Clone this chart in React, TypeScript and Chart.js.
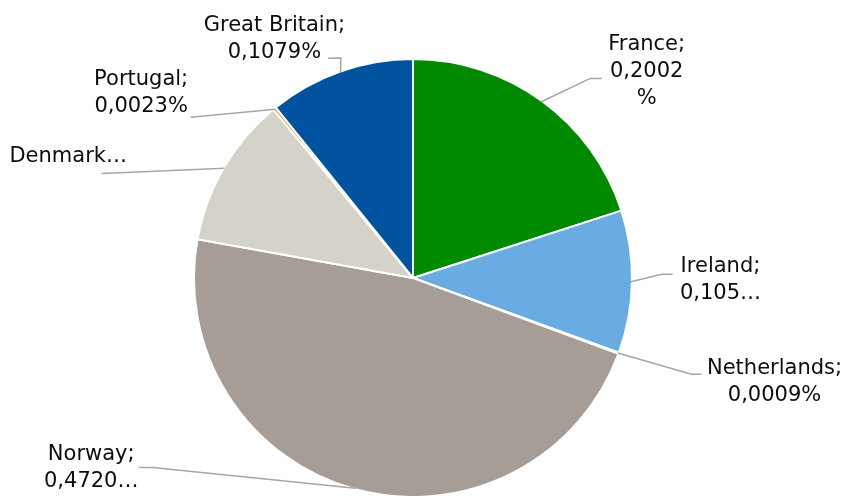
import React, { useEffect, useRef } from "react";
import { Chart, registerables } from "chart.js";

Chart.register(...registerables);

const categories = ["France", "Ireland", "Netherlands", "Norway", "Denmark", "Portugal", "Great Britain"];
const shares = [0.2002, 0.1052, 0.0009, 0.472, 0.1115, 0.0023, 0.1079];
const labelTexts = [
  ["France;", "0,2002", "%"],
  ["Ireland;", "0,105…"],
  ["Netherlands;", "0,0009%"],
  ["Norway;", "0,4720…"],
  ["Denmark…"],
  ["Portugal;", "0,0023%"],
  ["Great Britain;", "0,1079%"],
];
const colors = ["#008A00", "#69ACE3", "#D9D9D9", "#A59D96", "#D5D2CA", "#F39200", "#00549F"];

// label layout: offsets relative to the slice's outer mid-point
// knee/end: leader line points; text: centre x, first baseline y
const labelLayout = [
  { knee: [49, -23.3], end: [60.6, -23.3], text: [105.4, -51.3] },
  { knee: [30.7, -7.5], end: [41.7, -7.5], text: [89.5, -9.8] },
  { knee: [73.8, 21.4], end: [83.8, 21.4], text: [156.8, 20.7] },
  { knee: [-203.2, -20.8], end: [-216.9, -20.8], text: [-264.5, -28.2] },
  { knee: [-123.1, 5.3], end: [-123.1, 5.3], text: [-156.5, -6] },
  { knee: [-84.4, 8], end: [-84.4, 8], text: [-133.9, -24.4] },
  { knee: [0.4, -14.4], end: [-12.3, -14.1], text: [-66.1, -41.1] },
];

const LINE_H = 27;

const labelPlugin = {
  id: "leaderLabels",
  afterDraw(chart: any) {
    const ctx = chart.ctx;
    const meta = chart.getDatasetMeta(0);
    ctx.save();
    meta.data.forEach((arc: any, i: number) => {
      const { x, y, startAngle, endAngle, outerRadius } = arc.getProps(
        ["x", "y", "startAngle", "endAngle", "outerRadius"],
        true
      );
      const mid = (startAngle + endAngle) / 2;
      const r = outerRadius - 1;
      const ax = x + Math.cos(mid) * r;
      const ay = y + Math.sin(mid) * r;
      const L = labelLayout[i];
      ctx.strokeStyle = "#A6A6A6";
      ctx.lineWidth = 1.5;
      ctx.beginPath();
      ctx.moveTo(ax, ay);
      ctx.lineTo(ax + L.knee[0], ay + L.knee[1]);
      ctx.lineTo(ax + L.end[0], ay + L.end[1]);
      ctx.stroke();
      ctx.fillStyle = "#0D0D0D";
      ctx.font = '21px "DejaVu Sans"';
      ctx.textAlign = "center";
      ctx.textBaseline = "alphabetic";
      labelTexts[i].forEach((line, j) => {
        ctx.fillText(line, ax + L.text[0], ay + L.text[1] + j * LINE_H);
      });
    });
    ctx.restore();
  },
};

export default function App() {
  const ref = useRef<HTMLCanvasElement | null>(null);
  useEffect(() => {
    if (!ref.current) return;
    const chart = new Chart(ref.current, {
      type: "pie",
      data: {
        labels: categories,
        datasets: [
          {
            data: shares,
            backgroundColor: colors,
            borderColor: "#FFFFFF",
            borderWidth: 2,
            radius: 219,
          } as any,
        ],
      },
      options: {
        animation: false,
        responsive: false,
        devicePixelRatio: 1,
        layout: { padding: { left: 195, right: 215, top: 60, bottom: 0 } },
        plugins: {
          legend: { display: false },
          tooltip: { enabled: false },
        },
      },
      plugins: [labelPlugin],
    });
    return () => chart.destroy();
  }, []);
  return (
    <div style={{ position: "absolute", left: 0, top: 0, width: 846, height: 496, background: "#fff" }}>
      <canvas ref={ref} width={846} height={496} style={{ width: 846, height: 496 }} />
    </div>
  );
}
